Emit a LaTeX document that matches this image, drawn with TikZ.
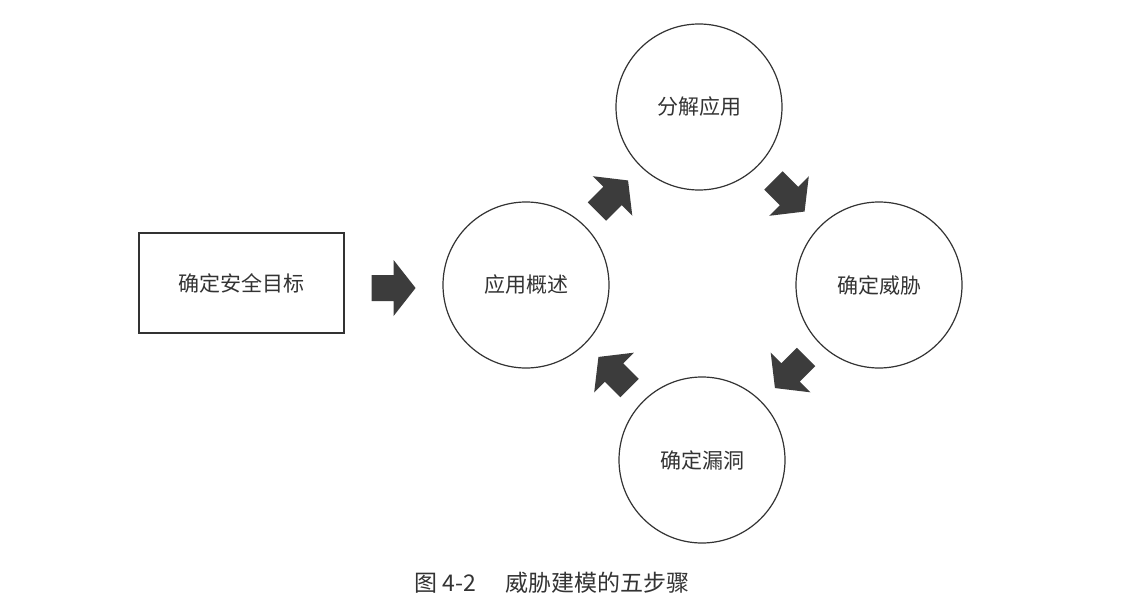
\documentclass[tikz,border=0pt]{standalone}
\usepackage{fontspec}
\newfontfamily\cjk{Noto Sans CJK SC}
\usetikzlibrary{calc}
\definecolor{ink}{HTML}{333333}
\definecolor{arrowfill}{HTML}{3C3C3C}
\tikzset{
  stepcircle/.style={circle, draw=ink, line width=1.2pt, minimum size=166pt, inner sep=0pt,
    font=\cjk\fontsize{21}{24}\selectfont, text=ink},
  goalbox/.style={rectangle, draw=ink, line width=1.5pt, minimum width=205pt, minimum height=100pt,
    inner sep=0pt, font=\cjk\fontsize{21}{24}\selectfont, text=ink},
  blockarrow/.pic={\fill[arrowfill] (-22,-13) -- (0,-13) -- (0,-28) -- (22,0) -- (0,28) -- (0,13) -- (-22,13) -- cycle;}
}
\begin{document}
\begin{tikzpicture}[x=1pt,y=-1pt]
\useasboundingbox[fill=white] (0,0) rectangle (1128,602);
\node[goalbox] (goal) at (241.5,283) {确定安全目标};
\node[stepcircle] (c1) at (526,285) {应用概述};
\node[stepcircle] (c2) at (699,107) {分解应用};
\node[stepcircle] (c3) at (879,285) {确定威胁};
\node[stepcircle] (c4) at (702,460) {确定漏洞};
\coordinate (a0) at ($(goal.east)!0.5!(c1.west)$);
\pic at ($(a0)+(0,4)$) {blockarrow};
\pic[rotate=45] at ($(c1)!0.5!(c2)$) {blockarrow};
\pic[rotate=-45] at ($(c2)!0.5!(c3)$) {blockarrow};
\pic[rotate=-135] at ($(c3)!0.5!(c4)$) {blockarrow};
\pic[rotate=135] at ($(c4)!0.5!(c1)$) {blockarrow};
\node[font=\cjk\fontsize{23}{26}\selectfont, text=ink] (cap) at (552,583) {图 4-2\hspace{1.3em}威胁建模的五步骤};
\end{tikzpicture}
\end{document}
